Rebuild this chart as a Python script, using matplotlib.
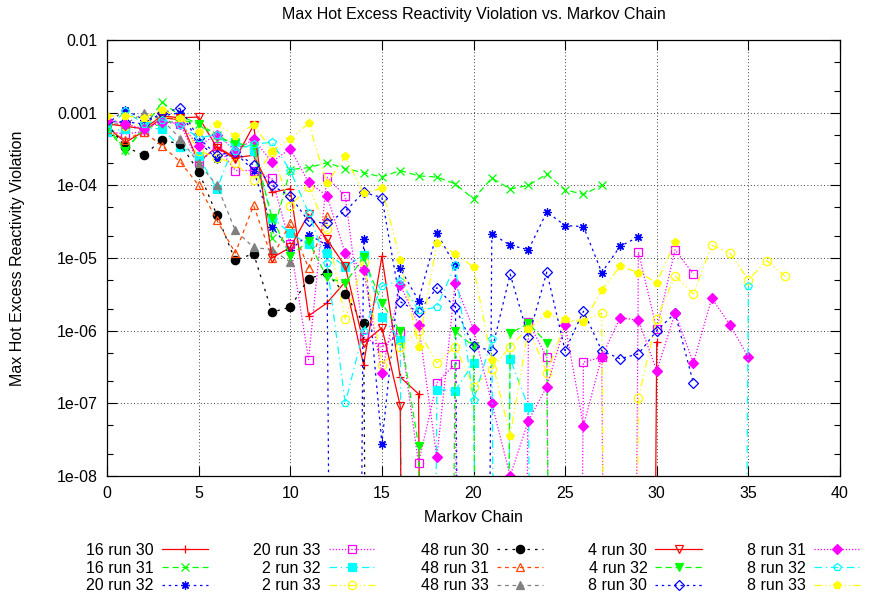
import numpy as np
import matplotlib
matplotlib.use('Agg')
import matplotlib.pyplot as plt
from matplotlib.ticker import MultipleLocator, LogLocator, NullFormatter, FuncFormatter

plt.rcParams['font.family'] = ['Liberation Sans', 'DejaVu Sans']

# values gnuplot drew as (practically) zero -> line dives off the bottom
Z = 1e-40

# Max hot excess reactivity violation per Markov chain
s16r30 = [6.5e-4, 3.9e-4, 5.5e-4, 8.5e-4, 8.0e-4, 2.1e-4, 3.4e-4, 2.4e-4, 2.6e-4, 8.0e-5,
          9.0e-5, 1.6e-6, 2.4e-6, 4.7e-6, 3.4e-7, 1.05e-5, 2.3e-7, 1.35e-7,
          Z, Z, Z, Z, Z, Z, Z, Z, Z, Z, Z, Z, 7.0e-7]
s16r31 = [6.5e-4, 3.1e-4, 6.0e-4, 1.4e-3, 9.0e-4, 7.0e-4, 5.0e-4, 3.5e-4, 3.3e-4, 1.9e-5,
          1.65e-4, 1.75e-4, 2.05e-4, 1.7e-4, 1.5e-4, 1.3e-4, 1.6e-4, 1.35e-4, 1.3e-4, 1.05e-4,
          6.5e-5, 1.26e-4, 8.9e-5, 1.0e-4, 1.43e-4, 8.7e-5, 7.5e-5, 1.0e-4]
s20r32 = [7.0e-4, 1.1e-3, 8.0e-4, 9.0e-4, 1.0e-3, 4.0e-4, 2.3e-4, 2.8e-4, 1.6e-4, 2.7e-5,
          1.3e-5, 2.1e-5, 1.5e-5, Z, 1.8e-5, 2.8e-8, 7.2e-6, 2.6e-6, 2.2e-5, 7.9e-6,
          Z, 2.15e-5, 1.5e-5, 1.3e-5, 4.3e-5, 2.8e-5, 2.7e-5, 6.3e-6, 1.45e-5, 1.95e-5]
s20r33 = [5.5e-4, 5.1e-4, 5.5e-4, 8.0e-4, 7.0e-4, 2.0e-4, 3.5e-4, 1.6e-4, 1.6e-4, 1.25e-4,
          1.55e-5, 4.0e-7, 1.3e-4, 7.1e-5, 8.3e-7, 5.9e-7, 9.6e-7, 1.5e-8, 1.9e-7, 3.5e-7,
          Z, Z, Z, 1.3e-6, 4.3e-7, Z, 3.7e-7, 4.3e-7, Z, 1.2e-5,
          1.05e-6, 1.3e-5, 6.0e-6]
s2r32 = [5.4e-4, 6.0e-4, 6.1e-4, 6.0e-4, 3.4e-4, 2.5e-4, 8.9e-5, 4.0e-4, 3.0e-4, 3.6e-5,
         2.2e-5, 1.55e-5, 1.16e-5, 7.6e-6, 1.1e-5, 1.55e-6, 7.4e-7, Z, 1.55e-7, 1.5e-7,
         3.6e-7, Z, 4.1e-7, 8.9e-8, Z]
s2r33 = [7.5e-4, 6.5e-4, 7.0e-4, 9.0e-4, 8.0e-4, 3.0e-4, 2.4e-4, 2.0e-4, 1.2e-4, 2.9e-4,
         5.2e-5, 9.6e-5, 2.5e-5, 1.45e-6, 8.9e-6, 3.4e-7, 5.9e-7, 1.0e-6, 3.6e-7, 6.0e-7,
         1.7e-7, 3.0e-7, 6.0e-7, 1.1e-6, 2.6e-7, 1.3e-6, 1.4e-6, 1.74e-6, Z, 1.2e-7,
         1.45e-6, 5.7e-6, 3.2e-6, 1.5e-5, 1.16e-5, 5.0e-6, 9.2e-6, 5.6e-6]
s48r30 = [7.0e-4, 3.4e-4, 2.6e-4, 4.2e-4, 3.7e-4, 1.55e-4, 3.9e-5, 9.3e-6, 1.15e-5, 1.8e-6,
          2.1e-6, 5.2e-6, 6.2e-6, 3.2e-6, 1.26e-6, Z]
s48r31 = [6.0e-4, 4.2e-4, 5.5e-4, 3.5e-4, 2.1e-4, 1.0e-4, 3.3e-5, 1.17e-5, 5.3e-5, 1.0e-5,
          3.0e-5, 7.3e-6, 3.8e-5]
s48r33 = [7.0e-4, 7.0e-4, 9.8e-4, 8.0e-4, 4.4e-4, 2.0e-4, 1.0e-4, 2.4e-5, 1.4e-5, 1.3e-5,
          8.8e-6]
s4r30 = [7.0e-4, 6.5e-4, 6.0e-4, 9.0e-4, 8.5e-4, 8.7e-4, 3.3e-4, 2.3e-4, 6.7e-4, 1.0e-5,
         1.4e-5, 4.0e-5, 1.8e-5, 7.7e-6, 6.8e-7, 1.1e-6, 9.3e-8, Z]
s4r32 = [6.0e-4, 3.0e-4, 6.0e-4, 7.0e-4, 8.0e-4, 7.0e-4, 4.5e-4, 3.8e-4, 3.5e-4, 3.6e-5,
         1.07e-5, 1.7e-5, 5.4e-6, 4.5e-6, 1.02e-5, 2.4e-6, 9.8e-7, 2.6e-8, Z, 9.8e-7,
         6.1e-7, Z, 9.2e-7, 1.26e-6, 6.8e-7, Z]
s8r30 = [7.5e-4, 7.5e-4, 7.0e-4, 1.0e-3, 1.15e-3, 4.5e-4, 2.6e-4, 2.9e-4, 1.9e-4, 1.0e-4,
         7.1e-5, 3.2e-5, 3.0e-5, 4.4e-5, 8.0e-5, 6.8e-5, 2.5e-6, 1.8e-6, 3.9e-6, 2.1e-6,
         6.1e-7, 5.3e-7, 6.0e-6, 8.1e-7, 6.4e-6, 5.3e-7, 1.85e-6, 5.3e-7, 4.1e-7, 4.8e-7,
         1.0e-6, 1.74e-6, 1.9e-7]
s8r31 = [8.0e-4, 7.0e-4, 6.0e-4, 7.5e-4, 7.0e-4, 3.5e-4, 5.0e-4, 3.0e-4, 4.3e-4, 2.1e-4,
         3.2e-4, 1.1e-4, 7.2e-5, 1.16e-5, 6.8e-6, 2.6e-7, 4.3e-6, 1.2e-6, 1.8e-8, 4.5e-6,
         1.05e-6, 1.0e-7, 1.0e-8, 5.8e-8, 1.7e-7, 1.2e-6, 4.9e-8, 4.4e-7, 1.5e-6, 1.4e-6,
         2.8e-7, 1.74e-6, 3.6e-7, 2.8e-6, 1.2e-6, 4.3e-7]
s8r32 = [6.0e-4, 1.05e-3, 7.0e-4, 8.0e-4, 6.7e-4, 4.5e-4, 5.0e-4, 3.0e-4, 3.7e-4, 3.9e-4,
         1.6e-4, 4.2e-5, 8.5e-6, 1.0e-7, 1.0e-6, 4.1e-6, 4.9e-6, 1.9e-6, 2.1e-6, 8.0e-6,
         1.1e-7, 7.7e-7, Z, Z, Z, Z, Z, Z, Z, Z, Z, Z, Z, Z, Z, 4.1e-6]
s8r33 = [9.0e-4, 9.0e-4, 8.5e-4, 1.1e-3, 8.5e-4, 5.5e-4, 7.0e-4, 4.8e-4, 6.8e-4, 3.0e-4,
         4.4e-4, 7.1e-4, 1.07e-4, 2.5e-4, 7.8e-5, 9.1e-5, 9.5e-6, 6.0e-7, 1.6e-5, 1.15e-5,
         7.5e-6, 3.9e-7, 3.6e-8, 1.05e-6, 1.7e-6, 1.45e-6, 1.3e-6, 3.6e-6, 7.7e-6, 6.3e-6,
         4.6e-6, 1.65e-5]

labels = ['16 run 30', '16 run 31', '20 run 32', '20 run 33', '2 run 32', '2 run 33',
          '48 run 30', '48 run 31', '48 run 33', '4 run 30', '4 run 32', '8 run 30',
          '8 run 31', '8 run 32', '8 run 33']
data = [s16r30, s16r31, s20r32, s20r33, s2r32, s2r33, s48r30, s48r31, s48r33,
        s4r30, s4r32, s8r30, s8r31, s8r32, s8r33]

# gnuplot-ish line types: (colour, dash, marker, filled)
solid = '-'
dashed = (0, (5, 3))
sdash = (0, (2, 3))
dotted = (0, (1, 1.5))
dashdot = (0, (6, 3, 1, 3))
dashdotdot = (0, (6, 2.5, 1, 2.5, 1, 2.5))
styles = [
    ('#ff0000', solid, '+', True),
    ('#00ff00', dashed, 'x', True),
    ('#0000ff', sdash, (8, 2, 0), True),
    ('#ff00ff', dotted, 's', False),
    ('#00ffff', dashdot, 's', True),
    ('#ffff00', dashdotdot, 'o', False),
    ('#000000', (0, (2, 4)), 'o', True),
    ('#ff4500', (0, (3, 3)), '^', False),
    ('#808080', (0, (3, 3)), '^', True),
    ('#ff0000', solid, 'v', False),
    ('#00ff00', dashed, 'v', True),
    ('#0000ff', sdash, 'D', False),
    ('#ff00ff', dotted, 'D', True),
    ('#00ffff', dashdot, 'p', False),
    ('#ffff00', dashdotdot, 'p', True),
]

fig = plt.figure(figsize=(8.74, 5.98), dpi=100)
ax = fig.add_axes([107 / 874, 1 - 476 / 598, 733 / 874, 436 / 598])

for lab, vals, (col, ls, mk, filled) in zip(labels, data, styles):
    x = np.arange(len(vals))
    ms = 5 if mk == 'D' else 6
    ax.plot(x, vals, color=col, ls=ls, lw=0.9, marker=mk, ms=ms,
            mfc=col if filled else 'none', mec=col, mew=0.9, label=lab)

ax.set_yscale('log')
ax.set_ylim(1e-8, 1e-2)
ax.set_xlim(0, 40)
ax.xaxis.set_major_locator(MultipleLocator(5))
ax.yaxis.set_major_locator(LogLocator(base=10, numticks=20))
ax.yaxis.set_minor_locator(LogLocator(base=10, subs=(2, 5), numticks=20))
ax.yaxis.set_minor_formatter(NullFormatter())
ax.yaxis.set_major_formatter(FuncFormatter(lambda v, p: f'{v:g}' if v >= 1e-3 else f'{v:.0e}'))
ax.tick_params(which='both', direction='in', top=True, right=True, labelsize=11.5, width=0.8)
ax.tick_params(which='major', length=7, pad=7)
ax.tick_params(which='minor', length=4)
ax.grid(True, which='major', color='black', ls=(0, (1, 3)), lw=0.6)
for sp in ax.spines.values():
    sp.set_linewidth(0.9)

fig.text(473.5 / 874, 1 - 15 / 598, 'Max Hot Excess Reactivity Violation vs. Markov Chain',
         ha='center', va='center', fontsize=11.5)
fig.text(473.5 / 874, 1 - 518 / 598, 'Markov Chain', ha='center', va='center', fontsize=11.5)
fig.text(18 / 874, 1 - 258 / 598, 'Max Hot Excess Reactivity Violation', ha='center',
         va='center', rotation=90, fontsize=11.5)

fig.legend(loc='upper left', bbox_to_anchor=(86 / 874, 1 - 543 / 598), ncol=5,
           frameon=False, markerfirst=False, handlelength=2.9, handletextpad=0.5,
           columnspacing=2.85, labelspacing=0.17, fontsize=11.5, borderpad=0,
           borderaxespad=0)

fig.savefig('out.png', dpi=100)
